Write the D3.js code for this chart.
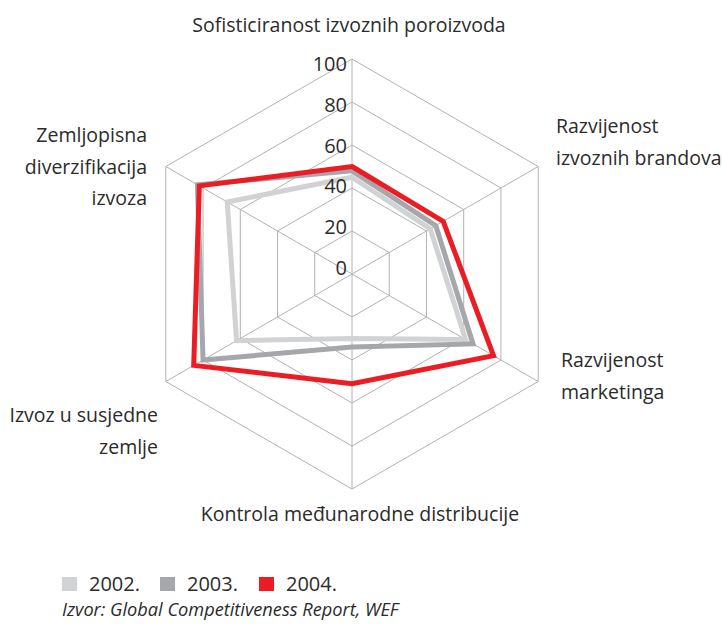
<!DOCTYPE html>
<html>
<head>
<meta charset="utf-8">
<script src="https://cdnjs.cloudflare.com/ajax/libs/d3/7.8.5/d3.min.js"></script>
<style>
  body { margin: 0; background: #fff; }
  text { font-family: "Open Sans", sans-serif; fill: #2b2b2b; }
</style>
</head>
<body>
<div id="chart"></div>
<script>
// axis names, clockwise from the top
const axes = [
  "Sofisticiranost izvoznih poroizvoda",
  "Razvijenost izvoznih brandova",
  "Razvijenost marketinga",
  "Kontrola međunarodne distribucije",
  "Izvoz u susjedne zemlje",
  "Zemljopisna diverzifikacija izvoza"
];
const years = ["2002.", "2003.", "2004."];
const values2002 = [45, 42, 61, 30, 62, 67];
const values2003 = [48, 45, 65, 34, 80, 83];
const values2004 = [50, 49, 76, 51, 85, 82];
const ticks = [0, 20, 40, 60, 80, 100];
const source = "Izvor: Global Competitiveness Report, WEF";

const series = [
  { name: years[0], values: values2002, color: "#d1d2d4" },
  { name: years[1], values: values2003, color: "#a6a7ab" },
  { name: years[2], values: values2004, color: "#ec1c24" }
];

const width = 722, height = 624;
const cx = 352, cy = 274;

const svg = d3.select("#chart").append("svg")
  .attr("width", width)
  .attr("height", height);

const r = d3.scaleLinear().domain([0, 100]).range([0, 215]);
// tick labels sit on a slightly tighter spacing than the grid (as in the original)
const labelY = d3.scaleLinear().domain([0, 100]).range([-6, -210]);
const angle = d3.scalePoint().domain(d3.range(axes.length + 1)).range([0, 2 * Math.PI]);

const g = svg.append("g").attr("transform", `translate(${cx},${cy})`);

const radial = d3.lineRadial()
  .angle((d, i) => angle(i))
  .radius(d => r(d))
  .curve(d3.curveLinearClosed);

// grid hexagons
g.append("g")
  .selectAll("path")
  .data(ticks.filter(t => t > 0))
  .enter().append("path")
  .attr("d", t => radial(axes.map(() => t)))
  .style("fill", "none")
  .style("stroke", "#b2b2b2")
  .style("stroke-width", 1);

// spokes
g.append("g")
  .selectAll("line")
  .data(axes)
  .enter().append("line")
  .attr("x1", 0).attr("y1", 0)
  .attr("x2", (d, i) => r(100) * Math.sin(angle(i)))
  .attr("y2", (d, i) => -r(100) * Math.cos(angle(i)))
  .style("stroke", "#b2b2b2")
  .style("stroke-width", 1);

// series polygons
g.append("g")
  .selectAll("path")
  .data(series)
  .enter().append("path")
  .attr("d", s => radial(s.values))
  .style("fill", "none")
  .style("stroke", s => s.color)
  .style("stroke-width", 5)
  .style("stroke-linejoin", "miter");

// tick labels
g.append("g")
  .selectAll("text")
  .data(ticks)
  .enter().append("text")
  .attr("x", -5)
  .attr("y", t => labelY(t) + 7)
  .attr("text-anchor", "end")
  .style("font-size", "20px")
  .text(t => t);

// axis labels (line breaks as in the reference)
const labelLayout = [
  { lines: [axes[0]], x: 349, y: 32, anchor: "middle" },
  { lines: ["Razvijenost", "izvoznih brandova"], x: 556, y: 133, anchor: "start" },
  { lines: ["Razvijenost", "marketinga"], x: 561, y: 367, anchor: "start" },
  { lines: [axes[3]], x: 360, y: 521, anchor: "middle" },
  { lines: ["Izvoz u susjedne", "zemlje"], x: 158, y: 422, anchor: "end" },
  { lines: ["Zemljopisna", "diverzifikacija", "izvoza"], x: 147, y: 142, anchor: "end" }
];

labelLayout.forEach(l => {
  const t = svg.append("text")
    .attr("text-anchor", l.anchor)
    .style("font-size", "19.5px");
  l.lines.forEach((line, i) => {
    t.append("tspan")
      .attr("x", l.x)
      .attr("y", l.y + i * 31.7)
      .text(line);
  });
});

// legend
const legendX = [62, 160, 259];
const legend = svg.append("g")
  .selectAll("g")
  .data(series)
  .enter().append("g")
  .attr("transform", (d, i) => `translate(${legendX[i]},577)`);

legend.append("rect")
  .attr("width", 15).attr("height", 14)
  .style("fill", d => d.color);

legend.append("text")
  .attr("x", 27)
  .attr("y", 14)
  .style("font-size", "20px")
  .text(d => d.name);

svg.append("text")
  .attr("x", 62)
  .attr("y", 616)
  .style("font-size", "18.2px")
  .style("font-style", "italic")
  .text(source);
</script>
</body>
</html>
